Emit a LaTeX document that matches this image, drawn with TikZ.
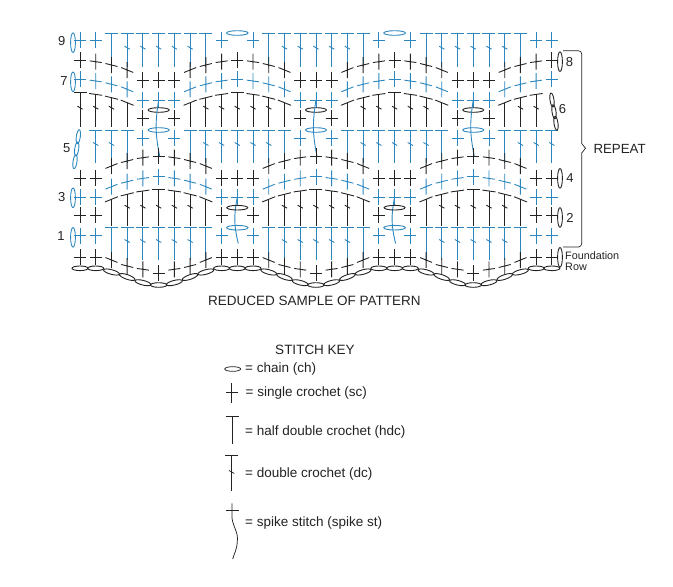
\documentclass[tikz,border=0pt]{standalone}
\usepackage{fontspec}
\setmainfont{Liberation Sans}

\definecolor{stitchblue}{RGB}{44,135,190}
\definecolor{stitchblack}{RGB}{35,35,35}

\tikzset{
  rowblue/.style={color=stitchblue,line width=.9pt},
  rowblack/.style={color=stitchblack,line width=.9pt},
  number/.style={font=\fontsize{13}{13}\selectfont,text=stitchblack,inner sep=0pt},
  keytext/.style={font=\fontsize{13.5}{14}\selectfont,text=stitchblack,inner sep=0pt,anchor=base west}
}

% stitches: column (or x), height(s), tilt
\newcommand{\stsc}[3]{\pgfmathsetmacro\dd{6*tan(#3)}
  \draw[shift={(#1,#2)},x=1pt,y=-1pt] (0,-8) -- (0,8) (-6,-\dd) -- (6,\dd);}
\newcommand{\sthdc}[4]{\pgfmathsetmacro\dd{6.5*tan(#4)}
  \draw (#1,#2) -- (#1,#3);
  \draw[shift={(#1,#2)},x=1pt,y=-1pt] (-6.5,-\dd) -- (6.5,\dd);}
\newcommand{\stdc}[4]{\sthdc{#1}{#2}{#3}{#4}
  \draw[shift={(#1,#3)},x=1pt,y=-1pt] (-2.6,-20.5) .. controls (-1,-20.5) and (1,-17.5) .. (2.6,-17.5);}
\newcommand{\stch}[4]{\draw (#1,#2) ellipse [x radius=#3pt,y radius=2.3pt,rotate=#4];}
\newcommand{\stspike}[3]{\pgfmathsetmacro\dd{#3-#2}
  \draw[shift={(#1,#2)},x=1pt,y=-1pt] (0,0) .. controls (-3.5,.4*\dd) and (-3.5,.6*\dd) .. (1,\dd);}

% one wave of a row, the peak in the middle
\def\wavelist{2/10/-22,3/5/-14,4/1.7/-8,5/0/0,6/1.7/8,7/5/14,8/10/22}
\newcommand{\wavesc}[3]{\foreach \base in {#2}{\foreach \cl/\dy/\tilt in \wavelist{
  \pgfmathtruncatemacro\col{\base+\cl}\pgfmathsetmacro\yy{#1+\dy}
  \ifnum\col<0\else\ifnum\col>#3\else\stsc{\col}{\yy}{\tilt}\fi\fi}}}
\newcommand{\wavetop}[4]{\foreach \base in {#3}{\foreach \cl/\dy/\tilt in \wavelist{
  \pgfmathtruncatemacro\col{\base+\cl}\pgfmathsetmacro\yy{#1+\dy}
  \ifnum\col<0\else\ifnum\col>#4\else
    \ifnum\cl=2 \sthdc{\col}{\yy}{#2}{\tilt}\else\ifnum\cl=8 \sthdc{\col}{\yy}{#2}{\tilt}\else\stdc{\col}{\yy}{#2}{\tilt}\fi\fi
  \fi\fi}}}
\newcommand{\flatsc}[2]{\foreach \col in {#2}{\stsc{\col}{#1}{0}}}

\begin{document}
\begin{tikzpicture}[x=1pt,y=-1pt]
\useasboundingbox (0,0) rectangle (673,587);

% chart, x counted in columns
\begin{scope}[x=15.73pt,xshift=80pt]

% row 9 and row 1
\begin{scope}[rowblue]
\foreach \top/\bot/\crossy in {33/66.7/40,227.7/260/235.7}{
  \foreach \base in {0,10,20}{
    \pgfmathtruncatemacro\cola{\base+1}\stsc{\cola}{\crossy}{0}
    \pgfmathtruncatemacro\cola{\base+9}\stsc{\cola}{\crossy}{0}
    \pgfmathtruncatemacro\cola{\base+2}\sthdc{\cola}{\top}{\bot}{0}
    \pgfmathtruncatemacro\cola{\base+8}\sthdc{\cola}{\top}{\bot}{0}
    \foreach \cl in {3,...,7}{\pgfmathtruncatemacro\cola{\base+\cl}\stdc{\cola}{\top}{\bot}{0}}
  }
  \flatsc{\crossy}{0,30}
  \stch{10}{\top}{10.8}{0}
  \stch{20}{\top}{10.8}{0}
}
\stspike{10}{197}{243.5}
\stspike{20}{197}{243.5}
\end{scope}

% row 8
\begin{scope}[rowblack]
\wavesc{60}{-5,5,15,25}{30}
\flatsc{80}{4,5,6,14,15,16,24,25,26}
\end{scope}

% row 7
\begin{scope}[rowblue]
\wavesc{79.3}{-5,5,15,25}{30}
\flatsc{100}{4,5,6,14,15,16,24,25,26}
\end{scope}

% row 6
\begin{scope}[rowblack]
\wavetop{92.7}{126.7}{-5,5,15,25}{29}
\flatsc{118.3}{4,6,14,16,24,26}
\foreach \col in {5,15,25}{\stch{\col}{110}{10.5}{0}}
\end{scope}

% row 5
\begin{scope}[rowblue]
\foreach \base in {0,10,20}{
  \foreach \cl in {3,7}{\pgfmathtruncatemacro\cola{\base+\cl}\sthdc{\cola}{130}{163}{0}}
  \foreach \cl in {1,2,8,9,10}{\pgfmathtruncatemacro\cola{\base+\cl}\stdc{\cola}{130}{163}{0}}
}
\flatsc{138}{4,6,14,16,24,26}
\foreach \col in {5,15,25}{
  \stch{\col}{130}{10.5}{0}
  \stspike{\col}{100}{156}
}
\end{scope}

% row 4
\begin{scope}[rowblack]
\wavesc{156}{0,10,20}{30}
\flatsc{178}{0,1,9,10,11,19,20,21,29,30}
\end{scope}

% row 3
\begin{scope}[rowblue]
\wavesc{176.7}{0,10,20}{30}
\flatsc{197.3}{0,1,9,10,11,19,20,21,29,30}
\end{scope}

% row 2
\begin{scope}[rowblack]
\wavetop{189.3}{225.7}{0,10,20}{30}
\flatsc{215}{0,1,9,11,19,21,29,30}
\stch{10}{207.7}{10.5}{0}
\stch{20}{207.7}{10.5}{0}
\end{scope}

% foundation row and its chain
\begin{scope}[rowblack]
\flatsc{257}{0,1,9,10,11,19,20,21,29,30}
\foreach \base in {0,10,20}{
  \foreach \cl/\yy/\tilt/\yb/\rot in {2/260/22/272/-15,3/266/14/277/-19,4/269.3/8/282.7/-14,5/273/0/285/0,6/269.3/-8/282.7/14,7/266/-14/277/19,8/260/-22/272/15}{
    \pgfmathtruncatemacro\cola{\base+\cl}
    \stsc{\cola}{\yy}{\tilt}
    \stch{\cola}{\yb}{8.2}{\rot}
  }
}
\foreach \col in {0,1,9,10,11,19,20,21,29,30}{\stch{\col}{268.3}{8}{0}}
\end{scope}
\end{scope}

% turning chains
\begin{scope}[rowblue]
\foreach \yy in {42.7,81.8,197.8,237.3}{\draw (73,\yy) ellipse [x radius=2.4pt,y radius=9.8pt];}
\foreach \xx/\yy in {78.3/136.7,76.7/149,75/161.7}{\draw (\xx,\yy) ellipse [x radius=2pt,y radius=7pt,rotate=-8];}
\end{scope}
\begin{scope}[rowblack]
\foreach \yy in {61.7,178.3,217.5,257.3}{\draw (560,\yy) ellipse [x radius=2.4pt,y radius=9.8pt];}
\foreach \xx/\yy in {552/100,554/111.7,556/123.3}{\draw (\xx,\yy) ellipse [x radius=2pt,y radius=7pt,rotate=8];}
\draw[line width=.7pt] (563,50.7) -- (578.5,50.7) to[out=0,in=90] (581.7,54) -- (581.7,143.5) -- (585.5,148.3) -- (581.7,153) -- (581.7,243.5) to[out=-90,in=0] (578.5,247) -- (563,247);
\end{scope}

% row numbers
\node[number] (nine) at (61.7,40.7) {9};
\node[number] (seven) at (64,81) {7};
\node[number] (five) at (66.7,148.3) {5};
\node[number] (three) at (61.7,196.7) {3};
\node[number] (one) at (61,236) {1};
\node[number] (eight) at (569.5,61.7) {8};
\node[number] (six) at (562.5,109.3) {6};
\node[number] (four) at (570,178.3) {4};
\node[number] (two) at (570,217.7) {2};
\node[keytext,font=\fontsize{13.3}{14}\selectfont] (repeat) at (593.3,153.3) {REPEAT};
\node[keytext,font=\fontsize{10.8}{11}\selectfont] (foundation) at (565,259) {Foundation};
\node[keytext,font=\fontsize{10.8}{11}\selectfont] (rowlabel) at (565,270) {Row};
\node[keytext] (sample) at (208,305.7) {REDUCED SAMPLE OF PATTERN};

% stitch key
\node[keytext,anchor=base] (title) at (315,354) {STITCH KEY};
\node[keytext] (keychain) at (245,372.7) {= chain (ch)};
\node[keytext] (keysingle) at (245.5,396.7) {= single crochet (sc)};
\node[keytext] (keyhalf) at (245,435) {= half double crochet (hdc)};
\node[keytext] (keydouble) at (245,477.7) {= double crochet (dc)};
\node[keytext] (keyspike) at (245,526) {= spike stitch (spike st)};

\begin{scope}[rowblack,line width=.75pt]
\stch{232.7}{369}{8}{0}
\draw (231.7,383) -- (231.7,403) (225.7,392.3) -- (238.3,392.3);
\sthdc{232.3}{416}{444.3}{0}
\stdc{231.7}{455}{491}{0}
\draw (225.5,510) -- (238.5,510);
\draw (232,503.3) -- (232,518) .. controls (233,527) and (238.5,532) .. (237.3,541.7) .. controls (236.8,550) and (234,554) .. (232.7,559);
\end{scope}
\end{tikzpicture}
\end{document}
